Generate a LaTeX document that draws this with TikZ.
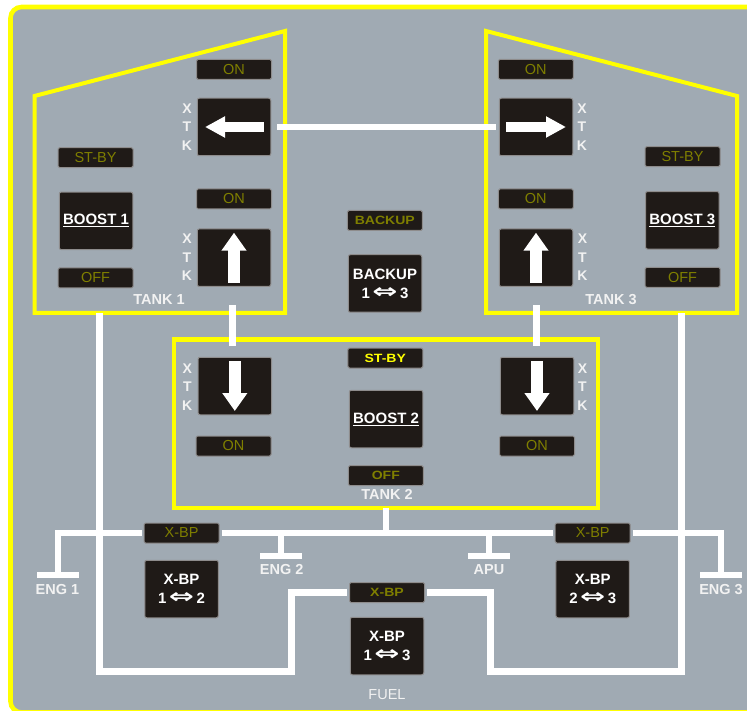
\documentclass[tikz,border=0pt]{standalone}
\usepackage{fontspec}
\usepackage{graphicx}
\usepackage{tikz}
\usetikzlibrary{arrows.meta}
\setmainfont{Liberation Sans}
\newfontfamily\symfont{DejaVu Sans}
\definecolor{panelgray}{HTML}{A0AAB3}
\definecolor{lampdark}{HTML}{1F1A17}
\definecolor{lamprim}{HTML}{8E8C8C}
\definecolor{lampolive}{HTML}{7F7F00}
\definecolor{fuelyellow}{HTML}{FFFF00}
\definecolor{labelwhite}{HTML}{F2F2F2}
\newcommand{\dblarr}{\,\scalebox{2}[1.35]{\symfont ⇔}\,}
\newcommand{\widetxt}[1]{\scalebox{1.17}[1]{#1}}

\begin{document}
\begin{tikzpicture}[
  x=1pt, y=-1pt,
  lamp/.style={draw=lamprim, line width=1pt, rounded corners=1.5pt, fill=lampdark,
               minimum width=75pt, minimum height=20pt, inner sep=0pt, outer sep=2.5pt,
               text=lampolive, font=\fontsize{14.5}{16}\selectfont},
  lampb/.style={lamp, font=\bfseries\fontsize{12}{14}\selectfont},
  btn/.style={draw=lamprim, line width=1pt, rounded corners=2pt, fill=lampdark,
              minimum width=73.5pt, minimum height=57.5pt, inner sep=0pt, outer sep=3.5pt,
              text=white, align=center, font=\bfseries\fontsize{15}{19}\selectfont},
  xtk/.style={text=labelwhite, align=center, inner sep=0pt,
              font=\bfseries\fontsize{14}{18.5}\selectfont},
  tanklabel/.style={text=labelwhite, inner sep=0pt, font=\bfseries\fontsize{14.5}{16}\selectfont},
  tank/.style={draw=fuelyellow, line width=4pt, miter limit=10},
  pipe/.style={draw=white, line width=6pt},
  fuelpipe/.style={draw=white, line width=7pt},
  teebar/.style={fill=white, minimum width=42pt, minimum height=6pt, inner sep=0pt, outer sep=0pt},
  fatarr/.style={-{Triangle[width=24pt,length=18pt]}, draw=white, line width=12pt},
  fatarrh/.style={-{Triangle[width=20pt,length=20pt]}, draw=white, line width=10pt},
]
  \clip (0,0) rectangle (747,711);
  \fill[white] (0,0) rectangle (747,711);
  \draw[draw=fuelyellow, fill=panelgray, line width=4.6pt, rounded corners=11pt]
    (10.5,7) rectangle (775,712.5);

  % tank outlines
  \draw[tank] (34.5,96) -- (285,31) -- (285,313) -- (34.5,313) -- cycle;
  \draw[tank] (486,31) -- (737,96) -- (737,313) -- (486,313) -- cycle;
  \node[tank, minimum width=424pt, minimum height=168pt, inner sep=0pt, outer sep=0pt]
    (tanktwo) at (386.3,423.5) {};

  % tank 1
  \node[lamp] (onla) at (234,69.3) {ON};
  \node[btn]  (xla)  at (234,127) {};
  \node[lamp] (onlb) at (234,199) {ON};
  \node[btn]  (xlb)  at (234,257.7) {};
  \node[lamp] (stbya) at (95.5,157.7) {ST-BY};
  \node[btn]  (boosta) at (96,220.8) {\underline{BOOST 1}};
  \node[lamp] (offa) at (95.5,278) {OFF};
  \node[xtk]  (xtkla) at (187,127) {X\\T\\K};
  \node[xtk]  (xtklb) at (187,257.5) {X\\T\\K};
  \node[tanklabel] (labela) at (159,300) {TANK 1};

  % tank 3
  \node[lamp] (onra) at (535.8,69.3) {ON};
  \node[btn]  (xra)  at (536,127) {};
  \node[lamp] (onrb) at (535.8,199) {ON};
  \node[btn]  (xrb)  at (536,257.7) {};
  \node[lamp] (stbyc) at (682.5,156.7) {ST-BY};
  \node[btn]  (boostc) at (682.3,220.3) {\underline{BOOST 3}};
  \node[lamp] (offc) at (682.5,277.3) {OFF};
  \node[xtk]  (xtkra) at (582,127) {X\\T\\K};
  \node[xtk]  (xtkrb) at (582.5,257.5) {X\\T\\K};
  \node[tanklabel] (labelc) at (611,300) {TANK 3};

  % backup
  \node[lampb] (backlamp) at (384.8,220.5) {\widetxt{BACKUP}};
  \node[btn]   (backbtn)  at (385,283.5) {BACKUP\\1\dblarr 3};

  % tank 2
  \node[lampb, text=fuelyellow] (stbyb) at (385.3,358) {\widetxt{ST-BY}};
  \node[btn]   (boostb) at (386,419) {\underline{BOOST 2}};
  \node[lampb] (offb)   at (385.8,475.7) {\widetxt{OFF}};
  \node[btn]   (xtl)    at (234.8,386) {};
  \node[lamp]  (ontl)   at (233.5,446) {ON};
  \node[btn]   (xtr)    at (537,386) {};
  \node[lamp]  (ontr)   at (537,446) {ON};
  \node[xtk]   (xtktl)  at (187.3,387) {X\\T\\K};
  \node[xtk]   (xtktr)  at (582.5,387) {X\\T\\K};
  \node[tanklabel] (labelb) at (387,494.7) {TANK 2};

  % arrows in the buttons
  \draw[fatarrh] ([xshift=29.5pt]xla.center) -- ([xshift=-29pt]xla.center);
  \draw[fatarrh] ([xshift=-30pt]xra.center) -- ([xshift=30pt]xra.center);
  \draw[fatarr] ([yshift=-25pt]xlb.center) -- ([yshift=25pt]xlb.center);
  \draw[fatarr] ([yshift=-25pt]xrb.center) -- ([yshift=25pt]xrb.center);
  \draw[fatarr] ([yshift=25pt]xtl.center) -- ([yshift=-25pt]xtl.center);
  \draw[fatarr] ([yshift=25pt]xtr.center) -- ([yshift=-25pt]xtr.center);

  % cross-bypass row
  \node[lamp] (bpa) at (181.5,533) {X-BP};
  \node[btn]  (bpabtn) at (181.5,589) {X-BP\\1\dblarr 2};
  \node[lamp] (bpb) at (592.7,533) {X-BP};
  \node[btn]  (bpbbtn) at (592.7,589) {X-BP\\2\dblarr 3};
  \node[lampb] (bpc) at (387,592.5) {\widetxt{X-BP}};
  \node[btn]  (bpcbtn) at (387,646) {X-BP\\1\dblarr 3};

  % engines
  \node[teebar] (enga) at (57.5,575) {};
  \node[teebar] (engb) at (281,555.7) {};
  \node[teebar] (apu)  at (489,555.7) {};
  \node[teebar] (engc) at (720.7,575) {};
  \node[tanklabel] (engal) at (57.5,590) {ENG 1};
  \node[tanklabel] (engbl) at (281.7,570) {ENG 2};
  \node[tanklabel] (apul)  at (489,570) {APU};
  \node[tanklabel] (engcl) at (721,590) {ENG 3};
  \node[text=labelwhite, inner sep=0pt, font=\fontsize{14.5}{16}\selectfont] (fuel) at (387,695) {FUEL};

  \coordinate (linktl) at (277,127);
  \coordinate (linkla) at (232.7,305);
  \coordinate (linklb) at (232.7,345.5);
  \coordinate (linkra) at (536,305);
  \coordinate (linkrb) at (536,345.5);
  \coordinate (fuelta) at (99.5,313);
  \coordinate (fueltc) at (681.7,313);
  \coordinate (fuelba) at (291,671.7);
  \coordinate (fuelbc) at (490,671.7);

  % connectors
  \draw[pipe] (linktl) -- (xra.west);
  \draw[fuelpipe] (linkla) -- (linklb);
  \draw[fuelpipe] (linkra) -- (linkrb);
  \draw[pipe] (enga.north) |- (bpa.west);
  \draw[pipe] (bpa.east) -- (bpb.west);
  \draw[pipe] (bpb.east) -| (engc.north);
  \draw[pipe] (engb.north) -- (engb.north |- bpa.east);
  \draw[pipe] (apu.north) -- (apu.north |- bpa.east);
  \draw[pipe] (tanktwo.south) -- (tanktwo.south |- bpa.east);
  \draw[fuelpipe] (fuelta) |- (fuelba) |- (bpc.west);
  \draw[fuelpipe] (bpc.east) -| (fuelbc) -| (fueltc);
\end{tikzpicture}
\end{document}
